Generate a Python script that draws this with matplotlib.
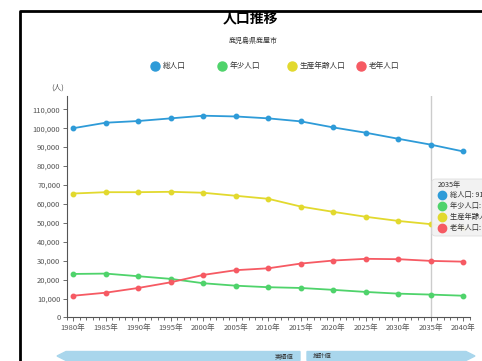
import matplotlib.pyplot as plt
from matplotlib.lines import Line2D
from matplotlib.patches import Polygon, FancyBboxPatch
from matplotlib.ticker import FuncFormatter, MultipleLocator

plt.rcParams['font.family'] = ['Noto Sans CJK JP', 'DejaVu Sans']

years = [1980, 1985, 1990, 1995, 2000, 2005, 2010, 2015, 2020, 2025, 2030, 2035, 2040]
total = [100000, 102900, 103800, 105200, 106600, 106200, 105200, 103600, 100400, 97600, 94400, 91300, 87700]
young = [23000, 23200, 21800, 20400, 18100, 16800, 16000, 15600, 14600, 13500, 12600, 12100, 11500]
working = [65500, 66200, 66200, 66400, 65900, 64300, 62700, 58600, 55800, 53200, 51000, 49300, 47400]
elderly = [11500, 13100, 15600, 18600, 22500, 25000, 26000, 28500, 30100, 31000, 30800, 29900, 29500]

series_names = ['総人口', '年少人口', '生産年齢人口', '老年人口']
colors = ['#2e9bd8', '#4fd36b', '#e2d92e', '#f65a63']
hover_year = 2035

fig = plt.figure(figsize=(4.82, 3.61), dpi=100)
ax = fig.add_axes([0.1384, 0.1205, 0.8366, 0.6135])

for vals, c in zip([total, young, working, elderly], colors):
    ax.plot(years, vals, color=c, lw=1.3, marker='o', ms=3.2, zorder=3)

# hover guide line
ax.axvline(hover_year, color='#cccccc', lw=1, zorder=1)

ax.set_xlim(1979, 2041)
ax.set_ylim(0, 117000)
ax.set_xticks(years)
ax.set_xticklabels([f'{y}年' for y in years])
ax.xaxis.set_minor_locator(MultipleLocator(1))
ax.set_yticks(range(0, 110001, 10000))
ax.yaxis.set_major_formatter(FuncFormatter(lambda v, p: f'{int(v):,}'))
ax.tick_params(labelsize=5.5, colors='#555555', length=3, width=0.6, pad=1.5)
ax.tick_params(which='minor', length=2, width=0.6, colors='#555555')
for s in ['top', 'right']:
    ax.spines[s].set_visible(False)
for s in ['left', 'bottom']:
    ax.spines[s].set_color('#555555')
    ax.spines[s].set_linewidth(0.8)

fig.text(58 / 482, 1 - 88 / 361, '(人)', fontsize=5.5, color='#555555', ha='center', va='center')

# title and subtitle
fig.text(250 / 482, 1 - 18 / 361, '人口推移', fontsize=10, fontweight='bold', ha='center', va='center')
fig.text(253 / 482, 1 - 41 / 361, '鹿児島県鹿屋市', fontsize=5, color='#333333', ha='center', va='center')

# legend row
leg_x = [155, 222, 292, 361]
for x, name, c in zip(leg_x, series_names, colors):
    fig.add_artist(Line2D([x / 482], [1 - 66 / 361], marker='o', ms=6.5, color=c, lw=0,
                          transform=fig.transFigure))
    fig.text((x + 8) / 482, 1 - 66 / 361, name, fontsize=5.5, color='#333333', va='center')

# tooltip
tx, ty = 432 / 482, 1 - 236 / 361
tip = FancyBboxPatch((tx, ty), 0.2, 57 / 361, boxstyle='round,pad=0,rounding_size=0.008',
                     transform=fig.transFigure, facecolor='#f2f2f2', edgecolor='#dddddd',
                     lw=0.6, alpha=0.95)
fig.add_artist(tip)
idx = years.index(hover_year)
fig.text(438 / 482, 1 - 185 / 361, f'{hover_year}年', fontsize=5.2, color='#333333', va='center')
for i, (name, vals, c) in enumerate(zip(series_names, [total, young, working, elderly], colors))  :
    yy = 1 - (195 + i * 11) / 361
    fig.add_artist(Line2D([442 / 482], [yy], marker='o', ms=6, color=c, lw=0,
                          transform=fig.transFigure))
    fig.text(450 / 482, yy, f'{name}: {vals[idx]:,}人', fontsize=5.2, color='#333333', va='center')

# actual / estimated arrows at the bottom
band_c = '#a9d6ec'
yc, h = 1 - 356 / 361, 9 / 361
left_arrow = Polygon([(57 / 482, yc), (66 / 482, yc + h / 2), (300 / 482, yc + h / 2),
                      (300 / 482, yc - h / 2), (66 / 482, yc - h / 2)],
                     closed=True, transform=fig.transFigure, color=band_c)
right_arrow = Polygon([(307 / 482, yc + h / 2), (466 / 482, yc + h / 2), (475 / 482, yc),
                       (466 / 482, yc - h / 2), (307 / 482, yc - h / 2)],
                      closed=True, transform=fig.transFigure, color=band_c)
fig.add_artist(left_arrow)
fig.add_artist(right_arrow)
fig.text(293 / 482, yc, '実績値', fontsize=4.5, color='#333333', ha='right', va='center')
fig.text(313 / 482, yc, '推計値', fontsize=4.5, color='#333333', ha='left', va='center')

# outer frame (left and top edges)
fig.add_artist(Line2D([20 / 482, 20 / 482, 1], [0, 1 - 10.5 / 361, 1 - 10.5 / 361],
                      color='black', lw=2, transform=fig.transFigure))

fig.savefig('out.png', dpi=100)
